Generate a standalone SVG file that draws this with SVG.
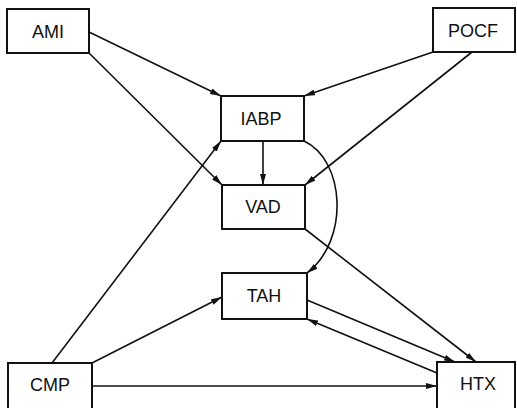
<svg xmlns="http://www.w3.org/2000/svg" width="517" height="408" viewBox="0 0 517 408">
<style>
.box{fill:#fff;stroke:#111;stroke-width:2}
.lbl{font-family:"Liberation Sans",Arial,sans-serif;font-size:18px;fill:#111;text-anchor:middle}
.c{fill:none;stroke:#111;stroke-width:1.6;marker-end:url(#ah)}
</style>
<defs>
<marker id="ah" markerUnits="userSpaceOnUse" markerWidth="11" markerHeight="6" refX="11" refY="3" orient="auto">
<path d="M0,0 L11,3 L0,6 z" fill="#111"/>
</marker>
</defs>
<rect width="517" height="408" fill="#fff"/>
<g id="connectors">
<path class="c" d="M89,32 L221,96"/>
<path class="c" d="M89,53 L222,185"/>
<path class="c" d="M433,52 L304,96"/>
<path class="c" d="M472,52 L305,185"/>
<path class="c" d="M263,141 L263,185"/>
<path class="c" d="M52,363 L221,141"/>
<path class="c" d="M92,363 L222,297"/>
<path class="c" d="M92,386 L437,386"/>
<path class="c" d="M304,141 C345,160 350,240 307,273"/>
<path class="c" d="M305,229 L476,362"/>
<path class="c" d="M307,300 L455,362"/>
<path class="c" d="M437,373 L307,319"/>
</g>
<g id="AMI"><rect class="box" x="7" y="9" width="82" height="44"/><text class="lbl" x="48" y="38">AMI</text></g>
<g id="POCF"><rect class="box" x="433" y="8" width="82" height="44"/><text class="lbl" x="473" y="37">POCF</text></g>
<g id="IABP"><rect class="box" x="221" y="96" width="83" height="45"/><text class="lbl" x="261" y="125">IABP</text></g>
<g id="VAD"><rect class="box" x="222" y="185" width="83" height="44"/><text class="lbl" x="263" y="213">VAD</text></g>
<g id="TAH"><rect class="box" x="222" y="273" width="85" height="46"/><text class="lbl" x="264" y="302">TAH</text></g>
<g id="CMP"><rect class="box" x="8" y="363" width="84" height="50"/><text class="lbl" x="50" y="391">CMP</text></g>
<g id="HTX"><rect class="box" x="437" y="362" width="78" height="50"/><text class="lbl" x="478" y="390">HTX</text></g>
</svg>
